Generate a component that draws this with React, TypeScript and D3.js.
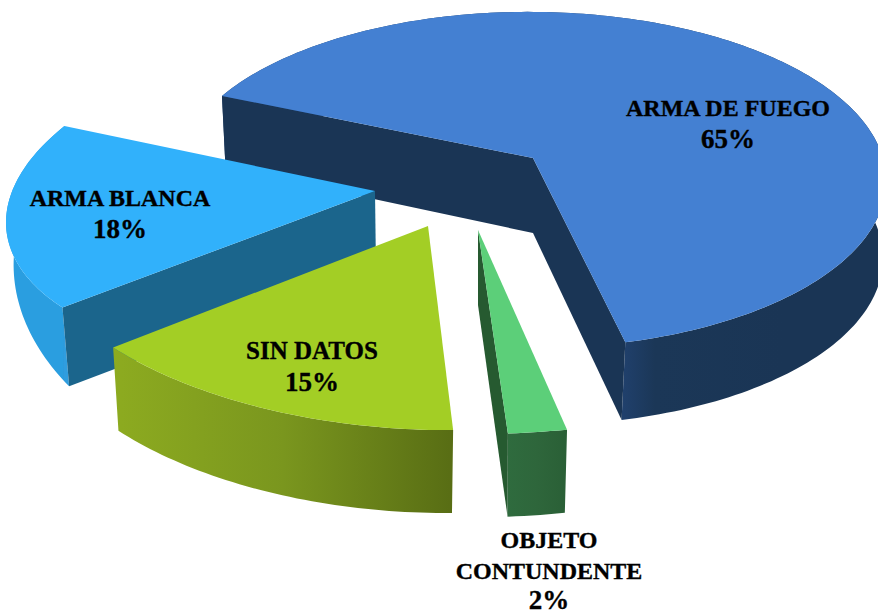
import React from "react";
import * as d3 from "d3";

const categories = ["ARMA DE FUEGO", "OBJETO CONTUNDENTE", "SIN DATOS", "ARMA BLANCA"];
const percentages = [65, 2, 15, 18];

type Rim = { ox: number; oy: number; ax: number; ay: number; bx: number; by: number; k: number };
type Geo = { top: Rim; bottom: Rim };

const W = 878;
const H = 611;
const START_DEG = 290;

const geometry: Geo[] = [
  {
    top: { ox: 533, oy: 158, ax: 352, ay: 9, bx: -17, by: 165, k: 0.131 },
    bottom: { ox: 533, oy: 233, ax: 349, ay: 12.4, bx: -19.5, by: 166.4, k: 0.131 },
  },
  {
    top: { ox: 478, oy: 230, ax: 473, ay: 13, bx: -43, by: 204, k: 0 },
    bottom: { ox: 478, oy: 305, ax: 458, ay: 14.5, bx: -41, by: 212, k: 0 },
  },
  {
    top: { ox: 428, oy: 226, ax: 406.5, ay: 29.4, bx: -37.5, by: 202, k: 0 },
    bottom: { ox: 428, oy: 309, ax: 399, ay: 29, bx: -37.5, by: 202, k: 0 },
  },
  {
    top: { ox: 375, oy: 191, ax: 360, ay: 6.5, bx: -81, by: 172, k: 0 },
    bottom: { ox: 376, oy: 270, ax: 353.6, ay: 55, bx: -79.4, by: 220.5, k: 0 },
  },
];

const topColors = ["#4480d2", "#5ccf79", "#a3ce25", "#31b1fb"];
const cutColors = ["#1a3555", "#265a30", "#8aa922", "#1b658c"];
// which radial cut faces of each slice face the viewer: [at start angle, at end angle]
const cutVisible = [
  [true, true],
  [false, true],
  [false, false],
  [true, false],
];
const drawOrder = [0, 3, 2, 1];
const rimStops = [
  ["#20406c", "#1b3757", "#1a3555"],
  ["#2f6b3e", "#2e663b", "#2a5f36"],
  ["#8dab20", "#7a961e", "#586d14"],
  ["#2a9ee0", "#2c9bdc", "#2f9ddf"],
];

const labelLines = [
  ["ARMA DE FUEGO", "65%"],
  ["OBJETO", "CONTUNDENTE", "2%"],
  ["SIN DATOS", "15%"],
  ["ARMA BLANCA", "18%"],
];
const labelAnchor = [
  { x: 728, y: 116, step: 32, size: 24 },
  { x: 549, y: 548, step: 30.5, size: 24 },
  { x: 312, y: 359, step: 32, size: 25 },
  { x: 120, y: 206, step: 32, size: 24 },
];

const project = (r: Rim, theta: number): [number, number] => {
  const s = Math.sin(theta);
  const c = -Math.cos(theta);
  const w = 1 - r.k * c;
  return [r.ox + (r.ax * s + r.bx * c) / w, r.oy + (r.ay * s + r.by * c) / w];
};

const arcPoints = (r: Rim, a0: number, a1: number): [number, number][] => {
  const n = Math.max(4, Math.ceil(Math.abs(a1 - a0) / 0.02));
  return d3.range(n + 1).map((i) => project(r, a0 + ((a1 - a0) * i) / n));
};

const line = d3.line<[number, number]>().curve(d3.curveLinear);

const pieGen = d3
  .pie<number>()
  .sort(null)
  .startAngle((START_DEG * Math.PI) / 180)
  .endAngle(((START_DEG + 360) * Math.PI) / 180);

const arcs = pieGen(percentages);

export default function App() {
  return (
    <svg
      width={W}
      height={H}
      viewBox={`0 0 ${W} ${H}`}
      style={{ position: "absolute", left: 0, top: 0, display: "block", background: "#fff" }}
    >
      <defs>
        {arcs.map((a, i) => {
          const g = geometry[i];
          const p0 = project(g.top, a.startAngle);
          const p1 = project(g.top, a.endAngle);
          const left = p0[0] < p1[0] ? p0 : p1;
          const right = p0[0] < p1[0] ? p1 : p0;
          const scaleStops = i === 0 ? [0, 0.2, 1] : [0, 0.5, 1];
          const x1 = i === 0 ? g.top.ox + 90 : left[0];
          const x2 = i === 0 ? g.top.ox + 250 : right[0];
          return (
            <linearGradient key={i} id={`rim${i}`} gradientUnits="userSpaceOnUse" x1={x1} x2={x2} y1={0} y2={0}>
              {rimStops[i].map((c, j) => (
                <stop key={j} offset={scaleStops[j]} stopColor={c} />
              ))}
            </linearGradient>
          );
        })}
      </defs>
      {drawOrder.map((i) => {
        const a = arcs[i];
        const g = geometry[i];
        const topArc = arcPoints(g.top, a.startAngle, a.endAngle);
        const botArc = arcPoints(g.bottom, a.startAngle, a.endAngle);
        const apexT: [number, number] = [g.top.ox, g.top.oy];
        const apexB: [number, number] = [g.bottom.ox, g.bottom.oy];
        const tStart = topArc[0];
        const bStart = botArc[0];
        const tEnd = topArc[topArc.length - 1];
        const bEnd = botArc[botArc.length - 1];
        const rimPath = line([...topArc, ...botArc.slice().reverse()]) + "Z";
        const cut1 = line([apexT, tStart, bStart, apexB]) + "Z";
        const cut2 = line([apexT, tEnd, bEnd, apexB]) + "Z";
        const topPath = line([apexT, ...topArc]) + "Z";
        return (
          <g key={categories[i]}>
            <path d={rimPath} fill={`url(#rim${i})`} />
            {cutVisible[i][0] && <path d={cut1} fill={cutColors[i]} />}
            {cutVisible[i][1] && <path d={cut2} fill={cutColors[i]} />}
            <path d={topPath} fill={topColors[i]} />
          </g>
        );
      })}
      <g
        fontFamily="'Liberation Serif', serif"
        fontWeight="bold"
        textAnchor="middle"
        fill="#000"
        stroke="#000"
        strokeWidth={0.35}
      >
        {labelLines.map((lines, i) =>
          lines.map((t, j) => (
            <text
              key={t}
              x={labelAnchor[i].x}
              y={labelAnchor[i].y + j * labelAnchor[i].step}
              fontSize={t.endsWith("%") ? 27 : labelAnchor[i].size}
            >
              {t}
            </text>
          ))
        )}
      </g>
    </svg>
  );
}
